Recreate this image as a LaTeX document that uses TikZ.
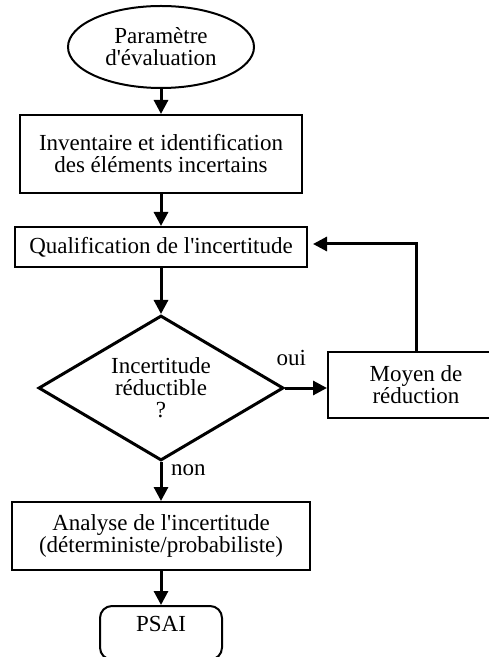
\documentclass[tikz,border=0pt]{standalone}
\usepackage{fontspec}
\setmainfont{Liberation Serif}[Ligatures=TeXOff]
\usetikzlibrary{positioning,shapes,arrows.meta}
\tikzstyle{startstop} = [ellipse, minimum width=93pt, minimum height=41pt, inner sep=0pt, align=center, draw=black, line width=1pt]
\tikzstyle{process} = [rectangle, inner sep=0pt, align=center, draw=black, line width=1pt]
\tikzstyle{decision} = [diamond, aspect=1.68, minimum width=122.5pt, minimum height=72.5pt, inner sep=0pt, align=center, draw=black, line width=1.5pt]
\tikzstyle{endbox} = [rectangle, rounded corners=6pt, minimum width=61pt, inner sep=0pt, text height=12.8pt, text depth=14pt, text centered, draw=black, line width=1pt]
\tikzstyle{arrow} = [line width=1.5pt,-{Triangle[width=7pt,length=7pt]}]

\begin{document}
\begin{tikzpicture}[font=\fontsize{11.5}{11}\selectfont, node distance=13pt]
                        \useasboundingbox (0,0) rectangle (244pt,-328.5pt);
                        \node (param) [startstop] at (80.5pt,-23.5pt) {Paramètre\\d'évaluation};
                        \node (invent) [process, minimum width=141pt, minimum height=39pt, below=12.5pt of param] {Inventaire et identification\\des éléments incertains};
                        \draw [arrow] (param) -- (invent);
                        \node (qualif) [process, minimum width=146pt, minimum height=20pt, below=16pt of invent] {Qualification de l'incertitude};
                        \draw [arrow] (invent) -- (qualif);
                        \node (reduc) [decision, below=23pt of qualif] {Incertitude\\réductible\\?};
                        \draw [arrow] (qualif) -- (reduc);
                        \node (moyen) [process, minimum width=88pt, minimum height=33pt, right=21pt of reduc, yshift=1.5pt] {Moyen de\\réduction};
                        \draw [arrow] (reduc.east) -- node[pos=0.15, above=7pt] {oui} (reduc.east -| moyen.west);
                        \draw [arrow, shorten >=2.5pt] (moyen.north) |- ([yshift=1.5pt]qualif.east);
                        \node (analyse) [process, minimum width=149pt, minimum height=34pt, below=19.5pt of reduc] {Analyse de l'incertitude\\(déterministe/probabiliste)};
                        \draw [arrow] (reduc) -- node[pos=0.22, right=1pt] {non} (analyse);
                        \node (psai) [endbox, below=17pt of analyse] {PSAI};
                        \draw [arrow] (analyse) -- (psai);
                    \end{tikzpicture}
\end{document}
